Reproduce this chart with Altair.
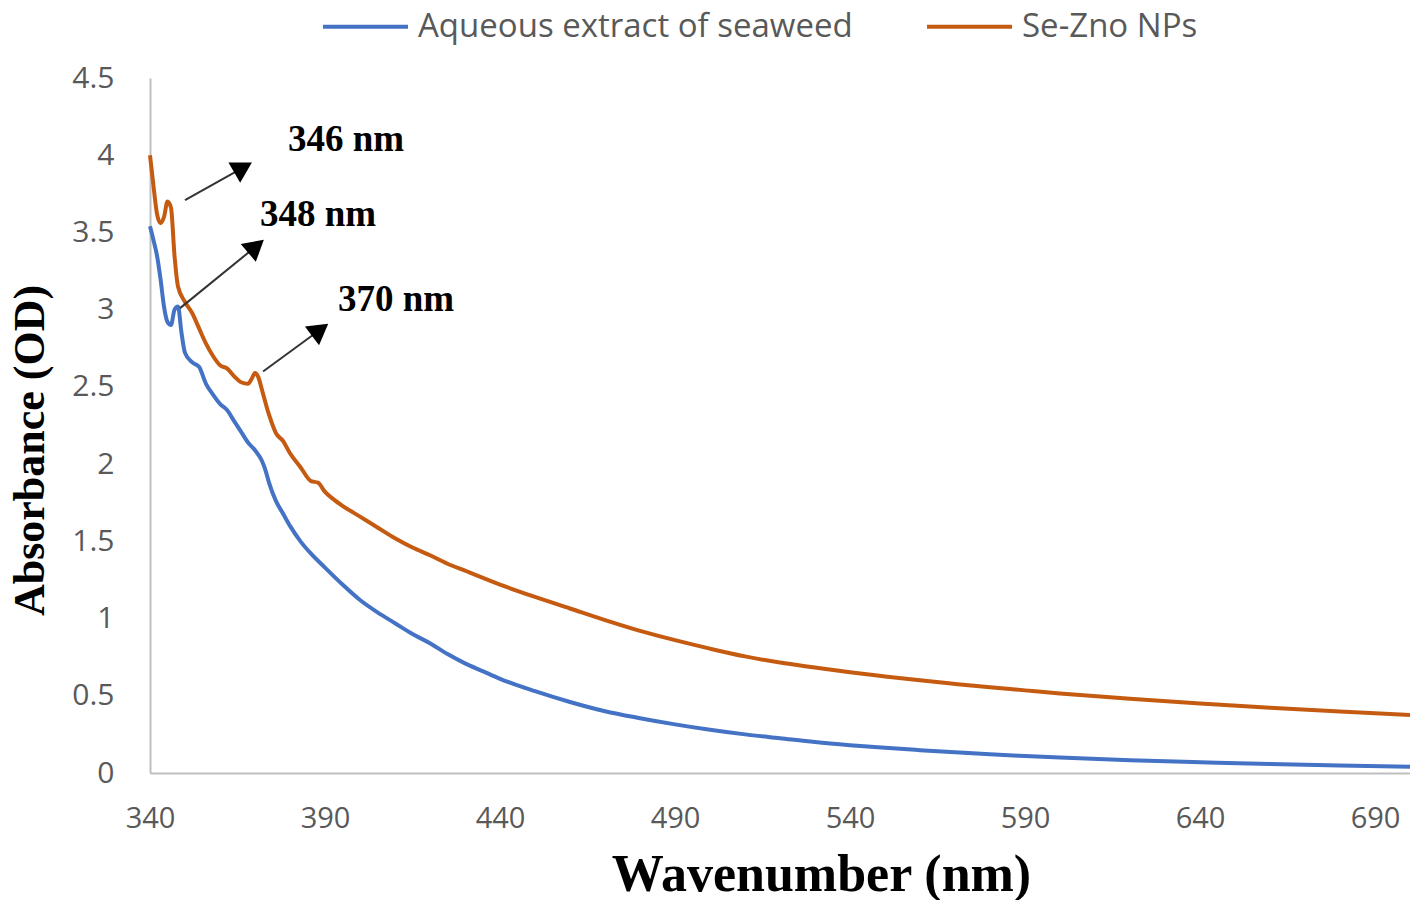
import altair as alt
import pandas as pd

# ---- data ----
wl_seaweed = [340, 341, 342, 343, 344, 345, 346, 347, 348, 349, 350, 352, 354, 356, 358, 360,
              362, 364, 366, 368, 370, 372, 373, 374, 376, 378, 380, 383, 386, 390, 395, 400,
              405, 410, 415, 420, 425, 430, 435, 440, 450, 460, 470, 480, 490, 500, 510, 520,
              530, 540, 550, 560, 570, 580, 590, 600, 620, 640, 660, 680, 700]
abs_seaweed = [3.54, 3.45, 3.35, 3.20, 3.02, 2.92, 2.90, 3.00, 3.02, 2.85, 2.72, 2.66, 2.63, 2.52,
               2.45, 2.39, 2.35, 2.28, 2.21, 2.14, 2.09, 2.02, 1.96, 1.88, 1.76, 1.68, 1.60, 1.50,
               1.42, 1.33, 1.22, 1.12, 1.04, 0.97, 0.90, 0.84, 0.77, 0.71, 0.66, 0.61, 0.53, 0.46,
               0.40, 0.355, 0.315, 0.28, 0.25, 0.225, 0.20, 0.18, 0.163, 0.148, 0.134, 0.121,
               0.11, 0.10, 0.083, 0.07, 0.058, 0.048, 0.04]

wl_sezno = [340, 341, 342, 343, 344, 345, 346, 347, 348, 350, 352, 354, 356, 358, 360, 362, 364,
            366, 368, 369, 370, 371, 372, 374, 376, 378, 380, 383, 386, 388, 390, 392, 395, 400,
            405, 410, 415, 420, 425, 430, 440, 450, 460, 470, 480, 490, 500, 510, 520, 530, 540,
            550, 560, 570, 580, 590, 600, 620, 640, 660, 680, 700]
abs_sezno = [4.00, 3.80, 3.62, 3.56, 3.60, 3.70, 3.66, 3.35, 3.15, 3.05, 2.98, 2.88, 2.78, 2.70,
             2.64, 2.62, 2.57, 2.53, 2.52, 2.55, 2.59, 2.56, 2.48, 2.32, 2.20, 2.15, 2.07, 1.98,
             1.89, 1.88, 1.82, 1.78, 1.73, 1.66, 1.59, 1.52, 1.46, 1.41, 1.355, 1.31, 1.22,
             1.14, 1.065, 0.99, 0.92, 0.86, 0.805, 0.755, 0.715, 0.683, 0.652, 0.625, 0.60,
             0.577, 0.555, 0.535, 0.515, 0.48, 0.45, 0.423, 0.398, 0.375]

series_names = ["Aqueous extract of seaweed", "Se-Zno NPs"]
series_colors = ["#4472C4", "#C55A11"]

x_ticks = [340, 390, 440, 490, 540, 590, 640, 690]
y_ticks = [0, 0.5, 1, 1.5, 2, 2.5, 3, 3.5, 4, 4.5]

# annotations
ann_labels = ["346 nm", "348 nm", "370 nm"]
ann_text_x = [379.4, 371.4, 393.7]
ann_text_y = [4.10, 3.61, 3.06]
arrow_x1 = [350.0, 348.6, 372.3]
arrow_y1 = [3.71, 3.01, 2.60]
arrow_x2 = [366.6, 370.3, 388.6]
arrow_y2 = [3.92, 3.41, 2.87]
arrow_angle = [60, 50, 53]

# ---- build tables ----
df = pd.concat([
    pd.DataFrame({"wl": wl_seaweed, "abs": abs_seaweed, "series": series_names[0]}),
    pd.DataFrame({"wl": wl_sezno, "abs": abs_sezno, "series": series_names[1]}),
])
ann = pd.DataFrame({"label": ann_labels, "tx": ann_text_x, "ty": ann_text_y,
                    "x1": arrow_x1, "y1": arrow_y1, "x2": arrow_x2, "y2": arrow_y2,
                    "angle": arrow_angle})

xscale = alt.Scale(domain=[340, 700], nice=False, zero=False)
yscale = alt.Scale(domain=[0, 4.5], nice=False)

lines = alt.Chart(df).mark_line(strokeWidth=4, interpolate="monotone").encode(
    x=alt.X("wl:Q", scale=xscale,
            axis=alt.Axis(title="Wavenumber (nm)", values=x_ticks, grid=False, ticks=False,
                          labelPadding=31, labelFontSize=29, labelColor="#595959",
                          labelFont="Open Sans", domainColor="#BFBFBF", domainWidth=2,
                          titleFont="Liberation Serif", titleFontSize=52, titleFontWeight="bold",
                          titleColor="#000000", titleX=671, titleY=117,
                          titleBaseline="alphabetic", labelFlush=False)),
    y=alt.Y("abs:Q", scale=yscale,
            axis=alt.Axis(title="Absorbance (OD)", values=y_ticks, format="~g", grid=False,
                          ticks=False, labelPadding=36, labelFontSize=30, labelColor="#595959",
                          labelFont="Open Sans", domainColor="#BFBFBF", domainWidth=2,
                          titleFont="Liberation Serif", titleFontSize=44, titleFontWeight="bold",
                          titleColor="#000000", titleX=-98, titleY=372, labelFlush=False)),
    color=alt.Color("series:N", scale=alt.Scale(domain=series_names, range=series_colors),
                    legend=alt.Legend(title=None, orient="none", direction="horizontal",
                                      legendX=171, legendY=-96, symbolType="stroke",
                                      symbolSize=7225, symbolStrokeWidth=4,
                                      labelFontSize=33, labelColor="#595959",
                                      labelFont="Open Sans", labelOffset=8,
                                      columnPadding=66, labelLimit=700)),
)

rules = alt.Chart(ann).mark_rule(color="#333333", strokeWidth=2).encode(
    x="x1:Q", y="y1:Q", x2="x2:Q", y2="y2:Q")

heads = alt.Chart(ann).mark_point(shape="triangle-up", filled=True, color="#000000",
                                  size=550, opacity=1).encode(
    x="x2:Q", y="y2:Q", angle=alt.Angle("angle:Q", scale=None))

texts = alt.Chart(ann).mark_text(font="Liberation Serif", fontSize=37, fontWeight="bold",
                                 align="left", baseline="middle", color="#000000").encode(
    x="tx:Q", y="ty:Q", text="label:N")

chart = alt.layer(lines, rules, heads, texts).properties(
    width=1260, height=695,
    padding={"left": 142, "top": 70, "right": 0, "bottom": 127},
    autosize=alt.AutoSizeParams(type="none"),
    background="white",
).configure_view(stroke=None)

chart.save("out.html", embed_options={"renderer": "svg", "actions": False})
